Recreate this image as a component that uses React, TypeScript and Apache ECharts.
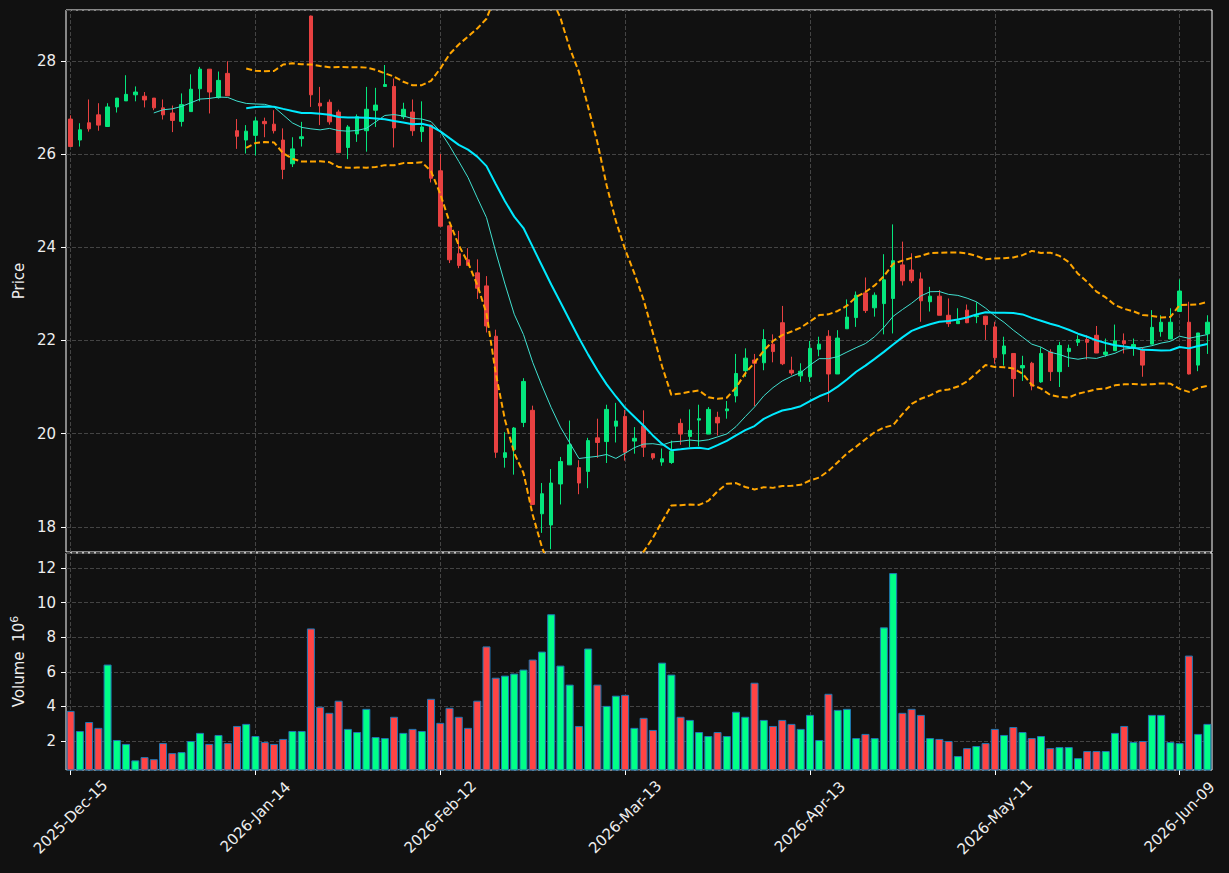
import React, { useEffect, useRef } from "react";
import * as echarts from "echarts";

// Trading days (category labels)
const monthDays: [string, number[]][] = [
  ["2025-Dec", [15, 16, 17, 18, 19, 22, 23, 24, 26, 29, 30, 31]],
  ["2026-Jan", [2, 5, 6, 7, 8, 9, 12, 13, 14, 15, 16, 20, 21, 22, 23, 26, 27, 28, 29, 30]],
  ["2026-Feb", [2, 3, 4, 5, 6, 9, 10, 11, 12, 13, 17, 18, 19, 20, 23, 24, 25, 26, 27]],
  ["2026-Mar", [2, 3, 4, 5, 6, 9, 10, 11, 12, 13, 16, 17, 18, 19, 20, 23, 24, 25, 26, 27, 30, 31]],
  ["2026-Apr", [1, 2, 6, 7, 8, 9, 10, 13, 14, 15, 16, 17, 20, 21, 22, 23, 24, 27, 28, 29, 30]],
  ["2026-May", [1, 4, 5, 6, 7, 8, 11, 12, 13, 14, 15, 18, 19, 20, 21, 22, 26, 27, 28, 29]],
  ["2026-Jun", [1, 2, 3, 4, 5, 8, 9, 10, 11, 12]],
];
const dates: string[] = [];
monthDays.forEach(([m, ds]) => ds.forEach((d) => dates.push(`${m}-${String(d).padStart(2, "0")}`)));

const TICK_EVERY = 20;

const opens = [
  26.75, 26.30, 26.67, 26.84, 26.59, 27.01, 27.14, 27.27, 27.24, 27.20,
  26.99, 26.88, 26.70, 26.91, 27.40, 27.82, 27.21, 27.73, 26.50, 26.30,
  26.40, 26.70, 26.64, 26.30, 25.79, 26.33, 28.96, 27.09, 27.11, 26.90,
  26.14, 26.43, 26.50, 26.94, 27.45, 27.45, 26.80, 26.90, 26.48, 26.62,
  25.64, 24.46, 23.86, 23.73, 23.45, 23.17, 22.09, 19.49, 19.66, 20.24,
  20.50, 18.28, 18.04, 18.92, 19.33, 19.27, 19.19, 19.91, 19.83, 20.16,
  20.37, 19.84, 20.16, 19.57, 19.39, 19.38, 20.22, 19.94, 20.29, 19.99,
  20.35, 20.49, 20.81, 21.35, 21.58, 21.52, 21.92, 22.38, 21.36, 21.24,
  21.22, 21.81, 22.09, 21.28, 22.25, 22.49, 23.02, 22.70, 22.79, 22.90,
  23.62, 23.51, 23.32, 22.83, 22.95, 22.54, 22.36, 22.65, 22.51, 22.52,
  22.29, 21.71, 21.72, 21.41, 21.51, 21.11, 21.75, 21.33, 21.76, 21.96,
  22.02, 22.11, 21.70, 21.78, 21.99, 21.86, 21.81, 21.92, 22.19, 22.03,
  22.62, 22.39, 21.47, 22.14,
];
const closes = [
  26.16, 26.52, 26.54, 26.62, 27.01, 27.20, 27.28, 27.33, 27.16, 26.99,
  26.84, 26.72, 27.06, 27.39, 27.82, 27.33, 27.58, 27.25, 26.38, 26.49,
  26.71, 26.65, 26.50, 25.67, 26.11, 26.37, 27.27, 27.03, 26.69, 26.03,
  26.58, 26.80, 26.96, 27.05, 27.49, 26.56, 26.96, 26.50, 26.58, 25.48,
  24.45, 23.73, 23.61, 23.61, 23.12, 22.31, 19.60, 19.59, 20.12, 21.12,
  18.48, 18.71, 18.94, 19.40, 19.76, 18.94, 19.85, 19.81, 20.52, 20.27,
  19.60, 19.90, 19.71, 19.48, 19.46, 19.62, 19.99, 20.07, 20.32, 20.52,
  20.23, 20.53, 21.29, 21.62, 21.51, 22.02, 21.76, 21.50, 21.30, 21.34,
  21.83, 21.92, 21.28, 22.05, 22.50, 22.97, 22.64, 22.97, 23.30, 23.71,
  23.28, 23.28, 22.85, 22.95, 22.54, 22.36, 22.42, 22.38, 22.53, 22.34,
  21.63, 21.88, 21.18, 21.46, 21.02, 21.72, 21.33, 21.89, 21.83, 22.02,
  21.96, 21.73, 21.75, 21.99, 21.93, 21.91, 21.47, 22.28, 22.39, 22.39,
  23.06, 21.28, 22.16, 22.39,
];
const lows = [
  26.16, 26.16, 26.48, 26.50, 26.59, 26.89, 27.14, 27.13, 27.00, 26.94,
  26.74, 26.47, 26.59, 26.91, 27.13, 26.87, 27.19, 27.25, 26.11, 26.01,
  25.97, 26.36, 26.44, 25.46, 25.72, 26.16, 27.01, 26.62, 26.63, 26.03,
  25.89, 26.26, 26.05, 26.58, 27.45, 26.14, 26.75, 26.39, 26.26, 25.39,
  24.45, 23.66, 23.55, 23.61, 22.89, 22.17, 19.48, 19.27, 19.12, 20.14,
  18.48, 17.87, 17.52, 18.48, 19.33, 18.70, 18.83, 19.48, 19.37, 19.81,
  19.42, 19.57, 19.50, 19.44, 19.31, 19.35, 19.76, 19.71, 19.73, 19.99,
  19.96, 20.32, 20.67, 21.22, 20.59, 21.36, 21.53, 21.47, 21.25, 21.11,
  21.11, 21.66, 20.68, 21.28, 22.25, 22.29, 22.59, 22.51, 22.13, 22.15,
  23.18, 23.23, 22.40, 22.62, 22.54, 22.29, 22.36, 22.37, 22.37, 22.01,
  21.50, 21.46, 20.79, 21.13, 20.93, 21.09, 21.13, 21.00, 21.43, 21.88,
  21.59, 21.73, 21.65, 21.78, 21.72, 21.67, 21.22, 21.92, 22.08, 22.03,
  22.62, 21.27, 21.34, 21.71,
];
const highs = [
  26.83, 26.66, 27.17, 27.09, 27.09, 27.20, 27.69, 27.45, 27.33, 27.20,
  27.17, 27.04, 27.30, 27.71, 27.87, 27.82, 27.77, 27.99, 26.75, 26.62,
  26.79, 26.78, 26.94, 26.55, 26.36, 26.69, 28.97, 27.44, 27.17, 26.95,
  26.62, 26.85, 27.44, 27.42, 27.91, 27.62, 27.10, 27.17, 27.13, 26.62,
  26.00, 24.46, 24.35, 23.98, 23.74, 23.38, 22.23, 20.03, 20.14, 21.19,
  20.60, 18.94, 19.24, 19.50, 20.28, 19.43, 19.91, 20.32, 20.62, 20.66,
  20.51, 20.14, 20.50, 19.57, 19.68, 19.85, 20.32, 20.52, 20.62, 20.57,
  20.47, 20.70, 21.71, 21.83, 21.71, 22.24, 22.13, 22.74, 21.65, 21.51,
  21.99, 22.08, 22.22, 22.22, 22.88, 23.05, 23.35, 23.03, 23.85, 24.49,
  24.12, 23.87, 23.46, 23.15, 23.08, 22.90, 22.69, 22.77, 22.82, 22.52,
  22.40, 22.08, 21.72, 21.67, 21.54, 21.85, 21.81, 21.97, 21.91, 22.11,
  22.11, 22.31, 22.04, 22.34, 22.15, 22.04, 21.85, 22.65, 22.54, 22.69,
  23.31, 22.83, 22.16, 22.54,
];
// Volume in millions
const volumes = [
  3.74, 2.58, 3.10, 2.76, 6.42, 2.06, 1.83, 0.88, 1.07, 0.95,
  1.88, 1.30, 1.36, 2.00, 2.47, 1.83, 2.35, 1.88, 2.87, 2.99,
  2.29, 1.94, 1.83, 2.12, 2.58, 2.58, 8.51, 3.98, 3.63, 4.33,
  2.70, 2.52, 3.86, 2.23, 2.17, 3.40, 2.47, 2.70, 2.58, 4.44,
  3.05, 3.92, 3.40, 2.76, 4.33, 7.47, 5.66, 5.78, 5.90, 6.13,
  6.71, 7.17, 9.33, 6.36, 5.26, 2.87, 7.35, 5.26, 4.03, 4.62,
  4.67, 2.76, 3.34, 2.64, 6.53, 5.84, 3.40, 3.22, 2.52, 2.29,
  2.52, 2.29, 3.69, 3.40, 5.37, 3.22, 2.87, 3.22, 2.99, 2.70,
  3.51, 2.06, 4.73, 3.80, 3.86, 2.17, 2.41, 2.17, 8.57, 11.71,
  3.63, 3.86, 3.51, 2.17, 2.12, 2.00, 1.13, 1.59, 1.71, 1.88,
  2.70, 2.35, 2.81, 2.52, 2.17, 2.29, 1.59, 1.65, 1.65, 1.01,
  1.42, 1.42, 1.42, 2.47, 2.87, 1.94, 2.00, 3.51, 3.51, 1.94,
  1.88, 6.94, 2.41, 2.99,
];

const BG = "#111111";
const UP = "#05e67d";
const DOWN = "#e84141";
const VUP = "#00ff88";
const VDOWN = "#ff4444";
const FONT = "DejaVu Sans";
const FS = 15;

function sma(arr: number[], n: number): (number | string)[] {
  return arr.map((_, i) => {
    if (i < n - 1) return "-";
    let s = 0;
    for (let j = i - n + 1; j <= i; j++) s += arr[j];
    return s / n;
  });
}
function band(arr: number[], n: number, k: number): (number | string)[] {
  return arr.map((_, i) => {
    if (i < n - 1) return "-";
    let s = 0;
    for (let j = i - n + 1; j <= i; j++) s += arr[j];
    const m = s / n;
    let v = 0;
    for (let j = i - n + 1; j <= i; j++) v += (arr[j] - m) * (arr[j] - m);
    return m + k * Math.sqrt(v / n);
  });
}

export default function App() {
  const ref = useRef<HTMLDivElement>(null);
  useEffect(() => {
    if (!ref.current) return;
    const chart = echarts.init(ref.current, null, { renderer: "svg" });
    const candleData = opens.map((o, i) => [o, closes[i], lows[i], highs[i]]);
    const volData = volumes.map((v, i) => ({
      value: v,
      itemStyle: { color: closes[i] >= opens[i] ? VUP : VDOWN },
    }));
    const tickIdx = dates.map((_, i) => i).filter((i) => i % TICK_EVERY === 0);
    const vlineSeries = (xi: number, yi: number) => ({
      type: "line", xAxisIndex: xi, yAxisIndex: yi, data: [], z: 0, silent: true,
      markLine: {
        silent: true, z: 0,
        symbol: ["none", "none"],
        label: { show: false },
        lineStyle: { type: [4, 2], color: "#444444", width: 1 },
        emphasis: { disabled: true },
        data: tickIdx.map((i) => ({ xAxis: dates[i] })),
      },
    });
    const gridSplit = { show: true, lineStyle: { type: [4, 2], color: "#444444", width: 1 } };
    const option: any = {
      animation: false,
      backgroundColor: BG,
      textStyle: { fontFamily: FONT },
      grid: [
        { left: 66, top: 10, width: 1146, height: 542, show: true, borderColor: "#ffffff", borderWidth: 1, backgroundColor: "transparent" },
        { left: 66, top: 553, width: 1146, height: 217, show: true, borderColor: "#ffffff", borderWidth: 1, backgroundColor: "transparent" },
      ],
      xAxis: [
        {
          type: "category", gridIndex: 0, data: dates, boundaryGap: true,
          axisLine: { show: false }, axisTick: { show: false }, axisLabel: { show: false }, splitLine: { show: false },
        },
        {
          type: "category", gridIndex: 1, data: dates, boundaryGap: true,
          axisLine: { show: false },
          axisTick: { show: true, alignWithLabel: true, interval: (i: number) => i % TICK_EVERY === 0, length: 5, lineStyle: { color: "#ffffff" } },
          axisLabel: {
            interval: (i: number) => i % TICK_EVERY === 0, rotate: 45, align: "center", verticalAlign: "middle",
            margin: 47, color: "#eeeeee", fontSize: FS, fontFamily: FONT,
          },
          splitLine: { show: false },
        },
      ],
      yAxis: [
        {
          type: "value", gridIndex: 0, min: 17.46, max: 29.09, splitNumber: 6,
          axisLine: { show: false },
          axisTick: { show: true, length: 5, lineStyle: { color: "#ffffff" } },
          axisLabel: { color: "#eeeeee", fontSize: FS, fontFamily: FONT, margin: 10, showMinLabel: false, showMaxLabel: false },
          splitLine: gridSplit,
          name: "Price", nameLocation: "middle", nameGap: 34,
          nameTextStyle: { color: "#eeeeee", fontSize: FS, fontFamily: FONT },
        },
        {
          type: "value", gridIndex: 1, min: 0.324, max: 12.87, splitNumber: 6,
          axisLine: { show: false },
          axisTick: { show: true, length: 5, lineStyle: { color: "#ffffff" } },
          axisLabel: { color: "#eeeeee", fontSize: FS, fontFamily: FONT, margin: 10, showMinLabel: false, showMaxLabel: false },
          splitLine: gridSplit,
          name: "{a|Volume  10}{b|6}", nameLocation: "middle", nameGap: 37,
          nameTextStyle: {
            color: "#eeeeee", fontSize: FS, fontFamily: FONT,
            rich: {
              a: { fontSize: FS, color: "#eeeeee", fontFamily: FONT },
              b: { fontSize: 11, color: "#eeeeee", fontFamily: FONT, verticalAlign: "top", padding: [0, 0, 8, 0] },
            },
          },
        },
      ],
      series: [
        vlineSeries(0, 0),
        vlineSeries(1, 1),
        {
          type: "candlestick", xAxisIndex: 0, yAxisIndex: 0, data: candleData, barWidth: 4,
          itemStyle: { color: UP, color0: DOWN, borderColor: UP, borderColor0: DOWN, borderWidth: 1 },
          z: 2,
        },
        {
          type: "line", xAxisIndex: 0, yAxisIndex: 0, data: sma(closes, 10), showSymbol: false, symbol: "none",
          lineStyle: { color: "#40e0d0", width: 1 }, z: 3, silent: true,
        },
        {
          type: "line", xAxisIndex: 0, yAxisIndex: 0, data: sma(closes, 20), showSymbol: false, symbol: "none",
          lineStyle: { color: "#00eaff", width: 2 }, z: 3, silent: true,
        },
        {
          type: "line", xAxisIndex: 0, yAxisIndex: 0, data: band(closes, 20, 2), showSymbol: false, symbol: "none",
          lineStyle: { color: "#ffa500", width: 2, type: [6, 3] }, z: 3, silent: true,
        },
        {
          type: "line", xAxisIndex: 0, yAxisIndex: 0, data: band(closes, 20, -2), showSymbol: false, symbol: "none",
          lineStyle: { color: "#ffa500", width: 2, type: [6, 3] }, z: 3, silent: true,
        },
        {
          type: "bar", xAxisIndex: 1, yAxisIndex: 1, data: volData, barWidth: 8, z: 2,
          itemStyle: { borderColor: "#1f77b4", borderWidth: 1 },
          silent: true,
        },
      ],
    };
    chart.setOption(option);
    return () => chart.dispose();
  }, []);
  return <div ref={ref} style={{ position: "absolute", left: 0, top: 0, width: 1229, height: 873 }} />;
}
